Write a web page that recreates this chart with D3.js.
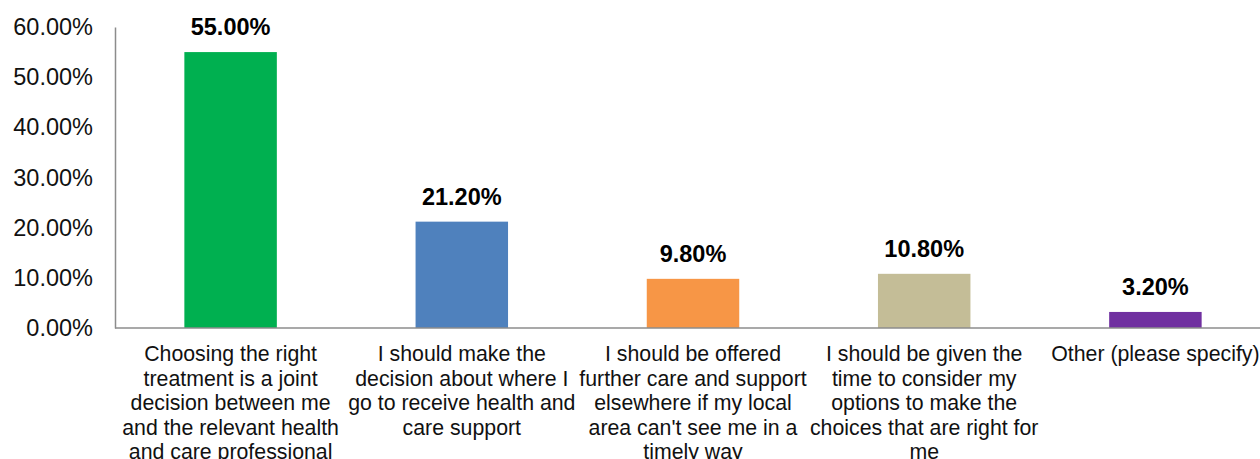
<!DOCTYPE html>
<html>
<head>
<meta charset="utf-8">
<script src="https://cdn.jsdelivr.net/npm/d3@7"></script>
<style>
  html, body { margin: 0; padding: 0; background: #fff; }
  svg { display: block; font-family: "Liberation Sans", Arial, sans-serif; }
</style>
</head>
<body>
<svg id="chart" width="1260" height="459"></svg>
<script>
// Survey responses: share of respondents per statement
const categories = [
  "Choosing the right\ntreatment is a joint\ndecision between me\nand the relevant health\nand care professional",
  "I should make the\ndecision about where I\ngo to receive health and\ncare support",
  "I should be offered\nfurther care and support\nelsewhere if my local\narea can't see me in a\ntimely way",
  "I should be given the\ntime to consider my\noptions to make the\nchoices that are right for\nme",
  "Other (please specify)"
];
const values = [55.0, 21.2, 9.8, 10.8, 3.2];
const colors = ["#00B050", "#4F81BD", "#F79646", "#C4BD97", "#7030A0"];
const yTicks = [0, 10, 20, 30, 40, 50, 60];

const svg = d3.select("#chart");
const margin = { left: 115, top: 27, bottom: 328 };
const bandWidth = 231.2;

const x = d3.scaleBand()
  .domain(d3.range(categories.length))
  .range([margin.left, margin.left + bandWidth * categories.length])
  .paddingInner(0.6)
  .paddingOuter(0.3);

const y = d3.scaleLinear().domain([0, 60]).range([margin.bottom, margin.top]);

// Y axis: labels only, with a plain vertical line
const yAxis = d3.axisLeft(y)
  .tickValues(yTicks)
  .tickSize(0)
  .tickPadding(22)
  .tickFormat(d => d3.format(".2f")(d) + "%");

const gy = svg.append("g")
  .attr("transform", `translate(${margin.left},0)`)
  .call(yAxis);
gy.select(".domain").attr("stroke", "#8c8c8c").attr("stroke-width", 1.5);
gy.selectAll("text")
  .attr("font-size", 23.5)
  .attr("fill", "#111")
  .attr("font-family", "Liberation Sans, Arial, sans-serif");

// Bars
svg.append("g").selectAll("rect")
  .data(values)
  .join("rect")
  .attr("x", (d, i) => x(i))
  .attr("width", x.bandwidth())
  .attr("y", d => y(d))
  .attr("height", d => y(0) - y(d))
  .attr("fill", (d, i) => colors[i]);

// X axis baseline
svg.append("line")
  .attr("x1", margin.left)
  .attr("x2", 1260)
  .attr("y1", y(0))
  .attr("y2", y(0))
  .attr("stroke", "#8c8c8c")
  .attr("stroke-width", 1.5);

// Value labels above bars
svg.append("g").selectAll("text")
  .data(values)
  .join("text")
  .attr("x", (d, i) => x(i) + x.bandwidth() / 2)
  .attr("y", d => y(d) - 17)
  .attr("text-anchor", "middle")
  .attr("font-size", 23.5)
  .attr("font-weight", "bold")
  .attr("fill", "#000")
  .text(d => d3.format(".2f")(d) + "%");

// Category labels, one tspan per line
const catG = svg.append("g").selectAll("text")
  .data(categories)
  .join("text")
  .attr("text-anchor", "middle")
  .attr("font-size", 21.3)
  .attr("fill", "#111")
  .attr("transform", (d, i) => `translate(${x(i) + x.bandwidth() / 2},${y(0) + 33})`);

catG.selectAll("tspan")
  .data(d => d.split("\n"))
  .join("tspan")
  .attr("x", 0)
  .attr("y", (d, j) => j * 24.5)
  .text(d => d);
</script>
</body>
</html>
